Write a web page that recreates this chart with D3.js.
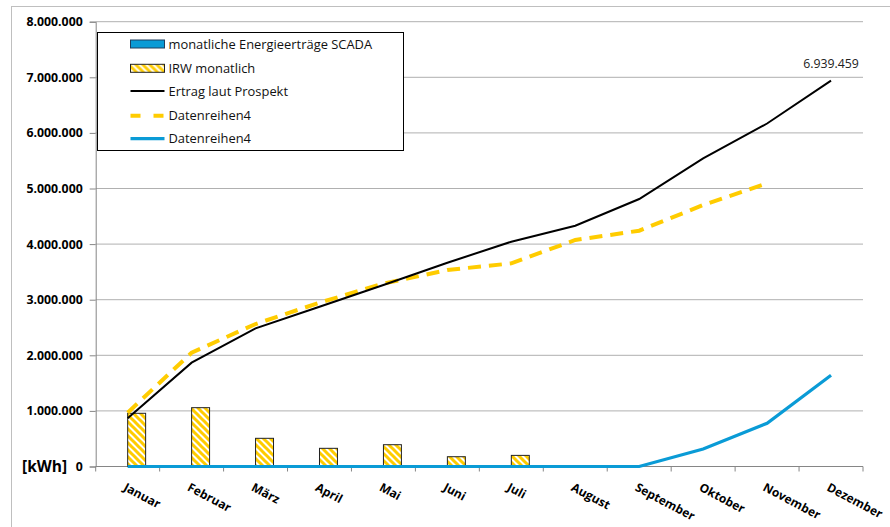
<!DOCTYPE html>
<html>
<head>
<meta charset="utf-8">
<script src="https://cdn.jsdelivr.net/npm/d3@7"></script>
<style>
  body { margin: 0; background: #fff; }
  text { font-family: "Open Sans", sans-serif; }
</style>
</head>
<body>
<div id="chart"></div>
<script>
// Monate (Kategorien)
const months = ["Januar", "Februar", "März", "April", "Mai", "Juni", "Juli",
    "August", "September", "Oktober", "November", "Dezember"];

// Balken: monatliche Werte
const scadaMonthly = [0, 0, 0, 0, 0, 0, 0, 0, 0, 0, 0, 0];
const irwMonthly = [957000, 1058000, 507000, 327000, 392000, 176000, 200000,
    null, null, null, null, null];

// Linien: kumulierte Werte
const prospekt = [867000, 1867000, 2485000, 2874000, 3264000, 3665000, 4043000,
    4331000, 4811000, 5543000, 6169000, 6939459];
const irwKumuliert = [968000, 2047000, 2563000, 2946000, 3290000, 3534000, 3653000,
    4074000, 4241000, 4703000, 5094000, null];
const scadaKumuliert = [0, 0, 0, 0, 0, 0, 0, 0, 0, 315000, 777000, 1640000];

const yTicks = [0, 1000000, 2000000, 3000000, 4000000, 5000000, 6000000, 7000000, 8000000];

const legendItems = [
    { label: "monatliche Energieerträge SCADA", type: "bar-scada" },
    { label: "IRW monatlich", type: "bar-irw" },
    { label: "Ertrag laut Prospekt", type: "line-black" },
    { label: "Datenreihen4", type: "line-yellow" },
    { label: "Datenreihen4", type: "line-blue" }
];

const W = 890, H = 527;
const plot = { left: 95.7, right: 863, top: 21.7, bottom: 466.5 };
const BLUE = "#0a9bd6", YELLOW = "#ffcc00";

const de = d3.formatLocale({ decimal: ",", thousands: ".", grouping: [3], currency: ["", "€"] });
const fmt = de.format(",.0f");

const svg = d3.select("#chart")
    .append("svg")
    .attr("width", W)
    .attr("height", H);

// hatch pattern for IRW bars
const defs = svg.append("defs");
const pat = defs.append("pattern")
    .attr("id", "hatch")
    .attr("patternUnits", "userSpaceOnUse")
    .attr("width", 7)
    .attr("height", 7);
pat.append("rect").attr("width", 7).attr("height", 7).attr("fill", "#fff");
pat.append("path")
    .attr("d", "M0,0 L7,7 M-3.5,3.5 L3.5,10.5 M3.5,-3.5 L10.5,3.5")
    .attr("stroke", YELLOW)
    .attr("stroke-width", 3);

// outer chart border
svg.append("rect")
    .attr("x", 11.5).attr("y", 6.5)
    .attr("width", W).attr("height", H)
    .attr("fill", "none")
    .attr("stroke", "#bfbfbf");

const x = d3.scaleBand()
    .domain(months)
    .range([plot.left, plot.right])
    .padding(0);

const xSub = d3.scaleBand()
    .domain(["scada", "irw"])
    .range([0, x.bandwidth()])
    .paddingInner(0)
    .paddingOuter(0.78);

const y = d3.scaleLinear()
    .domain([0, 8000000])
    .range([plot.bottom, plot.top]);

const cx = (m) => x(m) + x.bandwidth() / 2;

// gridlines
svg.append("g")
    .selectAll("line")
    .data(yTicks.filter(d => d > 0))
    .enter()
    .append("line")
    .attr("x1", plot.left).attr("x2", plot.right)
    .attr("y1", d => y(d)).attr("y2", d => y(d))
    .attr("stroke", "#b0b0b0")
    .attr("stroke-width", 1);

// y axis
const yAxis = d3.axisLeft(y)
    .tickValues(yTicks)
    .tickSize(6)
    .tickPadding(7)
    .tickFormat(fmt);

const gy = svg.append("g")
    .attr("transform", `translate(${plot.left},0)`)
    .call(yAxis);
gy.select(".domain").attr("stroke", "#868686");
gy.selectAll(".tick line").attr("stroke", "#868686");
gy.selectAll(".tick text")
    .attr("fill", "#000")
    .style("font-size", "12.3px")
    .style("font-weight", "bold");

// x axis: ticks between categories
const gx = svg.append("g").attr("class", "x-axis");
gx.append("line")
    .attr("x1", plot.left).attr("x2", plot.right)
    .attr("y1", plot.bottom).attr("y2", plot.bottom)
    .attr("stroke", "#868686");
gx.selectAll(".xtick")
    .data(months.concat(["__end"]))
    .enter()
    .append("line")
    .attr("class", "xtick")
    .attr("x1", d => d === "__end" ? plot.right : x(d))
    .attr("x2", d => d === "__end" ? plot.right : x(d))
    .attr("y1", plot.bottom).attr("y2", plot.bottom + 5)
    .attr("stroke", "#868686");
gx.selectAll(".xlabel")
    .data(months)
    .enter()
    .append("text")
    .attr("class", "xlabel")
    .attr("transform", d => `translate(${cx(d) - 5},490) rotate(28)`)
    .style("font-size", "12px")
    .style("font-weight", "bold")
    .text(d => d);

// unit label
svg.append("text")
    .attr("x", 22)
    .attr("y", plot.bottom + 5)
    .style("font-size", "15.5px")
    .style("font-weight", "bold")
    .text("[kWh]");

// bars
const bars = svg.append("g");
bars.selectAll(".bar-scada")
    .data(months.map((m, i) => ({ m, v: scadaMonthly[i] })).filter(d => d.v > 0))
    .enter()
    .append("rect")
    .attr("class", "bar-scada")
    .attr("x", d => x(d.m) + xSub("scada"))
    .attr("width", xSub.bandwidth())
    .attr("y", d => y(d.v))
    .attr("height", d => y(0) - y(d.v))
    .attr("fill", BLUE)
    .attr("stroke", "#1f3f5f");
bars.selectAll(".bar-irw")
    .data(months.map((m, i) => ({ m, v: irwMonthly[i] })).filter(d => d.v != null))
    .enter()
    .append("rect")
    .attr("class", "bar-irw")
    .attr("x", d => x(d.m) + xSub("irw"))
    .attr("width", xSub.bandwidth())
    .attr("y", d => y(d.v))
    .attr("height", d => y(0) - y(d.v))
    .attr("fill", "url(#hatch)")
    .attr("stroke", "#222")
    .attr("stroke-width", 1);

// lines
const line = d3.line()
    .defined(d => d.v != null)
    .x(d => cx(d.m))
    .y(d => y(d.v));
const toPts = (arr) => months.map((m, i) => ({ m, v: arr[i] }));

svg.append("path")
    .datum(toPts(scadaKumuliert))
    .attr("d", line)
    .attr("fill", "none")
    .attr("stroke", BLUE)
    .attr("stroke-width", 3.2);

svg.append("path")
    .datum(toPts(irwKumuliert))
    .attr("d", line)
    .attr("fill", "none")
    .attr("stroke", YELLOW)
    .attr("stroke-width", 4)
    .attr("stroke-dasharray", "13,8");

svg.append("path")
    .datum(toPts(prospekt))
    .attr("d", line)
    .attr("fill", "none")
    .attr("stroke", "#000")
    .attr("stroke-width", 2);

// data label on last point
const last = months.length - 1;
svg.append("text")
    .attr("x", cx(months[last]))
    .attr("y", y(prospekt[last]) - 13)
    .attr("text-anchor", "middle")
    .style("font-size", "12.3px")
    .attr("fill", "#222")
    .text(fmt(prospekt[last]));

// legend
const legend = svg.append("g").attr("transform", "translate(97.5,32.5)");
legend.append("rect")
    .attr("width", 306).attr("height", 118)
    .attr("fill", "#fff")
    .attr("stroke", "#000");
const rowY = [11.5, 35.8, 58.5, 83.2, 106.2];
const items = legend.selectAll(".item")
    .data(legendItems)
    .enter()
    .append("g")
    .attr("class", "item")
    .attr("transform", (d, i) => `translate(0,${rowY[i]})`);
items.each(function (d) {
    const g = d3.select(this);
    if (d.type === "bar-scada" || d.type === "bar-irw") {
        g.append("rect")
            .attr("x", 33).attr("y", -4)
            .attr("width", 34).attr("height", 8)
            .attr("fill", d.type === "bar-scada" ? BLUE : "url(#hatch)")
            .attr("stroke", d.type === "bar-scada" ? "#1f3f5f" : "#222");
    } else {
        const col = d.type === "line-black" ? "#000" : d.type === "line-yellow" ? YELLOW : BLUE;
        g.append("line")
            .attr("x1", 33).attr("x2", 67)
            .attr("stroke", col)
            .attr("stroke-width", d.type === "line-black" ? 2 : d.type === "line-yellow" ? 4 : 3.2)
            .attr("stroke-dasharray", d.type === "line-yellow" ? "10,13" : null);
    }
    g.append("text")
        .attr("x", 71)
        .attr("dy", "0.35em")
        .style("font-size", "12.9px")
        .attr("fill", "#111")
        .text(d.label);
});
</script>
</body>
</html>
